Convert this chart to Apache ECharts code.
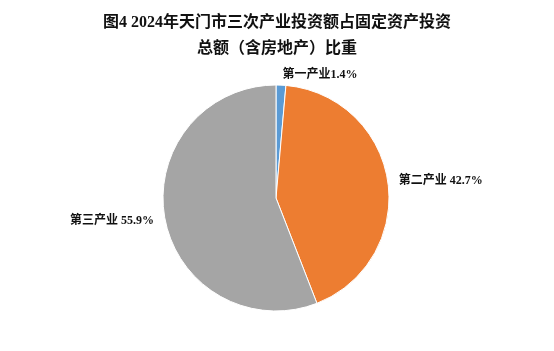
<!DOCTYPE html>
<html>
<head>
<meta charset="utf-8">
<script src="https://cdn.jsdelivr.net/npm/echarts@6/dist/echarts.min.js"></script>
<style>
  html, body { margin: 0; padding: 0; background: #fff; }
  #main { width: 554px; height: 351px; }
</style>
</head>
<body>
<div id="main"></div>
<script>
var categories = ['第一产业', '第二产业', '第三产业'];
var shares = [1.4, 42.7, 55.9];
var labelTexts = ['第一产业1.4%', '第二产业 42.7%', '第三产业 55.9%'];
var colors = ['#5B9BD5', '#ED7D31', '#A5A5A5'];

var font = '"Liberation Serif", "Noto Sans CJK SC", serif';

var chart = echarts.init(document.getElementById('main'));

var pieData = [];
for (var i = 0; i < categories.length; i++) {
    pieData.push({
        name: categories[i],
        value: shares[i],
        itemStyle: { color: colors[i] },
        label: { formatter: labelTexts[i] }
    });
}

var option = {
    backgroundColor: '#fff',
    title: {
        text: '图4 2024年天门市三次产业投资额占固定资产投资\n总额（含房地产）比重',
        left: 'center',
        top: 5,
        textStyle: {
            fontFamily: font,
            fontSize: 16,
            fontWeight: 'bold',
            color: '#111',
            lineHeight: 26
        }
    },
    series: [{
        type: 'pie',
        center: [276, 198],
        radius: [0, 113],
        startAngle: 90,
        clockwise: true,
        avoidLabelOverlap: false,
        itemStyle: {
            borderColor: '#fff',
            borderWidth: 1
        },
        label: {
            show: true,
            position: 'outside',
            fontFamily: font,
            fontSize: 12,
            fontWeight: 'bold',
            color: '#111',
            distanceToLabelLine: 1
        },
        labelLine: {
            show: false,
            length: 10,
            length2: 0
        },
        data: pieData
    }]
};

chart.setOption(option);
</script>
</body>
</html>
